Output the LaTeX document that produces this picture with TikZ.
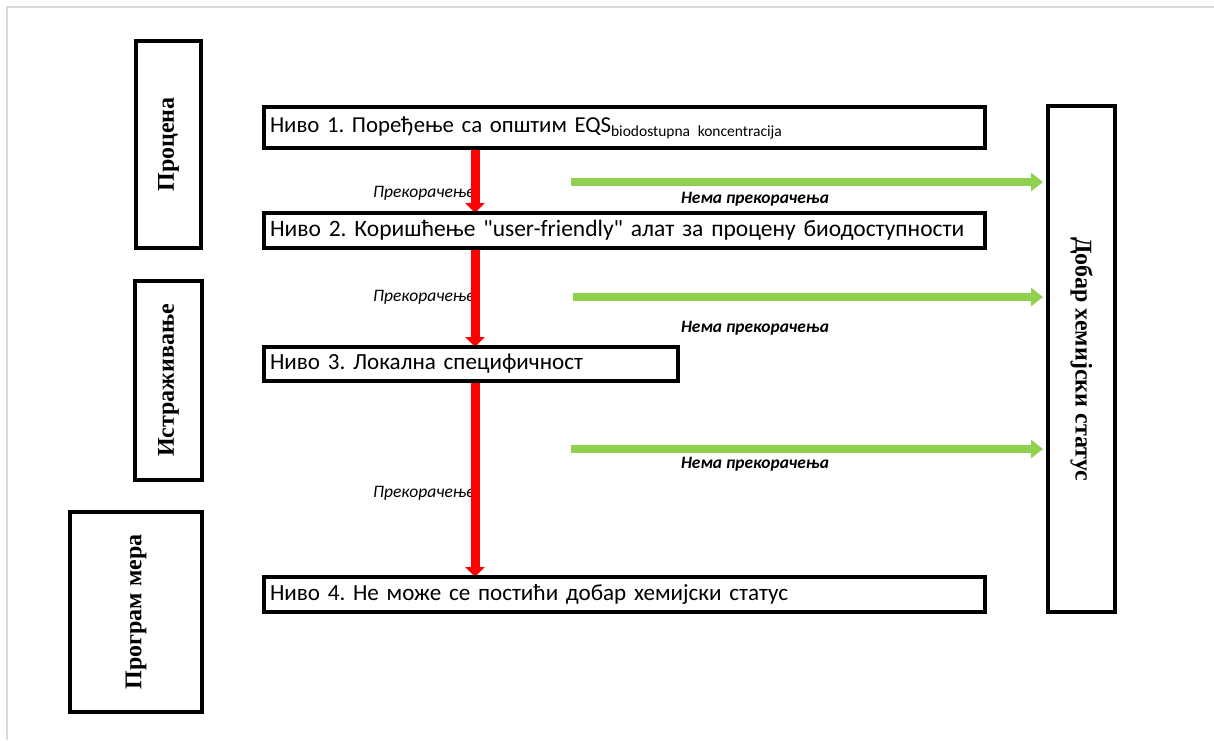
\documentclass[tikz,border=0pt]{standalone}
\usepackage{fontspec}
\setmainfont{Carlito}
\newfontfamily\qfont{Carlito}
\newfontfamily\tnr{Liberation Serif}
\usetikzlibrary{arrows.meta}
\definecolor{xgreen}{HTML}{92D050}
\definecolor{xgray}{HTML}{D9D9D9}
\definecolor{xred}{HTML}{FF0000}
\begin{document}
\frenchspacing
\begin{tikzpicture}[x=1pt,y=-1pt,
  box/.style={draw, line width=3.5pt, inner sep=0pt, outer sep=0pt},
  lvlbox/.style={box, align=left, font=\fontsize{23.1}{26}\selectfont},
  vbox/.style={box, font=\tnr\bfseries\fontsize{24}{28}\selectfont},
  exlabel/.style={anchor=west, inner sep=0pt, font=\itshape\fontsize{17.5}{20}\selectfont},
  nolabel/.style={inner sep=0pt, font=\bfseries\itshape\fontsize{17.4}{20}\selectfont},
  redarrow/.style={draw=xred, line width=9pt, -{Triangle[width=19pt,length=10pt]}},
  greenarrow/.style={draw=xgreen, line width=8pt, -{Triangle[width=18pt,length=12pt]}}]
\useasboundingbox (0,0) rectangle (1214,740);
% frame
\draw[xgray, line width=2pt] (7,740) -- (7,7) -- (1214,7);
% labels
\node[exlabel] (e1) at (373,193) {Прекорачење};
\node[exlabel] (e2) at (373,297) {Прекорачење};
\node[exlabel] (e3) at (373,493) {Прекорачење};
\node[nolabel] (n1) at (755,199) {Нема прекорачења};
\node[nolabel] (n2) at (755,328) {Нема прекорачења};
\node[nolabel] (n3) at (755,464) {Нема прекорачења};
% level boxes
\node[lvlbox, font=\fontsize{22.8}{26}\selectfont, minimum width=721pt, minimum height=41pt, text width=709pt] (l1) at (624.5,127.5)
  {Ниво 1. Поређење са општим EQS\raisebox{-4pt}{\fontsize{15.5}{18}\selectfont biodostupna koncentracija}};
\node[lvlbox, font=\fontsize{23.5}{26}\selectfont, minimum width=721pt, minimum height=35pt, text width=709pt] (l2) at (624.5,230.5)
  {Ниво 2. Коришћење {\qfont"}user-friendly{\qfont"} алат за процену биодоступности};
\node[lvlbox, minimum width=414pt, minimum height=34pt, text width=402pt] (l3) at (471,364)
  {Ниво 3. Локална специфичност};
\node[lvlbox, minimum width=721pt, minimum height=35pt, text width=709pt] (l4) at (624.5,594.5)
  {Ниво 4. Не може се постићи добар хемијски статус};
% vertical boxes
\node[vbox, rotate=90, minimum width=207pt, minimum height=65pt] (proc) at (168.5,144.5) {Процена};
\node[vbox, rotate=90, minimum width=199pt, minimum height=67pt] (istr) at (168.5,380.5) {Истраживање};
\node[vbox, rotate=90, minimum width=200pt, minimum height=132pt] (prog) at (136,612) {Програм мера};
\node[vbox, rotate=-90, minimum width=506pt, minimum height=67pt] (dob) at (1081.5,359) {Добар хемијски статус};
% red arrows
\coordinate (ax) at (475,0);
\draw[redarrow] (l1.south -| ax) -- (l2.north -| ax);
\draw[redarrow] (l2.south -| ax) -- (l3.north -| ax);
\draw[redarrow] (l3.south -| ax) -- (l4.north -| ax);
% green arrows
\coordinate (g1) at (571,182);
\coordinate (g2) at (573,297);
\coordinate (g3) at (571,449);
\draw[greenarrow] (g1) -- ([xshift=-5pt]dob.south |- g1);
\draw[greenarrow] (g2) -- ([xshift=-5pt]dob.south |- g2);
\draw[greenarrow] (g3) -- ([xshift=-5pt]dob.south |- g3);
% redraw level box borders on top of arrows
\draw[line width=3.5pt] (l1.south west) rectangle (l1.north east);
\draw[line width=3.5pt] (l2.south west) rectangle (l2.north east);
\draw[line width=3.5pt] (l3.south west) rectangle (l3.north east);
\draw[line width=3.5pt] (l4.south west) rectangle (l4.north east);
\end{tikzpicture}
\end{document}
